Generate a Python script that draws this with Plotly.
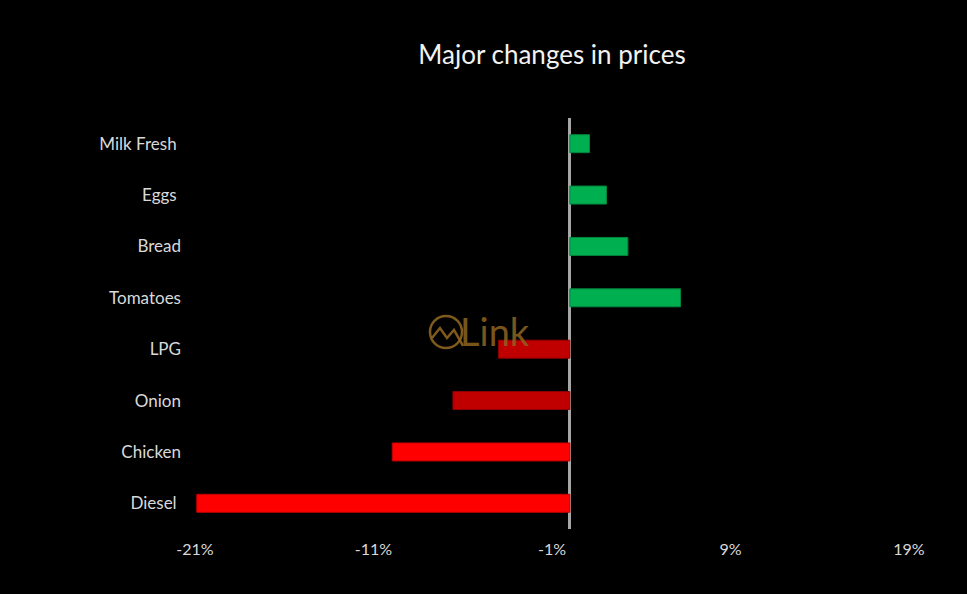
import plotly.graph_objects as go

# ---- data ----
categories = ["Milk Fresh", "Eggs", "Bread", "Tomatoes", "LPG", "Onion", "Chicken", "Diesel"]
tick_labels = ["Milk Fresh\u00a0", "Eggs\u00a0", "Bread", "Tomatoes", "LPG", "Onion", "Chicken", "Diesel\u00a0"]
changes = [1.1, 2.05, 3.25, 6.2, -4.0, -6.55, -9.95, -20.9]
bar_colors = ["#00B050", "#00B050", "#00B050", "#00B050", "#C00000", "#C00000", "#FF0000", "#FF0000"]
edge_colors = ["#00873D", "#00873D", "#00873D", "#00873D", "#8E0000", "#8E0000", "#C00000", "#C00000"]
x_ticks = [-21, -11, -1, 9, 19]
x_tick_text = ["-21%", "-11%", "-1%", "9%", "19%"]

W, H = 967, 594
L, R, T, B = 195, 58, 118, 65

fig = go.Figure(
    go.Bar(
        y=categories,
        x=changes,
        orientation="h",
        width=0.35,
        marker=dict(color=bar_colors, line=dict(color=edge_colors, width=1)),
        hoverinfo="x+y",
    )
)

fig.update_layout(
    width=W,
    height=H,
    paper_bgcolor="black",
    plot_bgcolor="black",
    margin=dict(l=L, r=R, t=T, b=B),
    showlegend=False,
    title=dict(
        text="Major changes in prices",
        x=0.5,
        xref="paper",
        xanchor="center",
        y=1 - 55 / H,
        yref="container",
        yanchor="middle",
        font=dict(family="Lato, Open Sans, sans-serif", size=26, color="#F2F2F2"),
    ),
    xaxis=dict(
        range=[-21, 19],
        tickvals=x_ticks,
        ticktext=x_tick_text,
        showgrid=False,
        zeroline=True,
        zerolinecolor="#A6A6A6",
        zerolinewidth=2.5,
        showline=False,
        ticks="",
        ticklabelstandoff=9,
        tickfont=dict(family="Lato, Open Sans, sans-serif", size=16, color="#D9D9D9"),
        fixedrange=True,
    ),
    yaxis=dict(
        categoryorder="array",
        categoryarray=categories,
        tickvals=categories,
        ticktext=tick_labels,
        autorange="reversed",
        showgrid=False,
        zeroline=False,
        showline=False,
        ticks="",
        ticklabelstandoff=13,
        tickfont=dict(family="Lato, Open Sans, sans-serif", size=17, color="#D9D9D9"),
        fixedrange=True,
    ),
)

# ---- watermark (decorative logo) ----
pw, ph = W - L - R, H - T - B


def px(x):
    return (x - L) / pw


def py(y):
    return (H - B - y) / ph


logo_color = "#8C6420"
fig.add_shape(
    type="circle", xref="paper", yref="paper",
    x0=px(430), x1=px(462), y0=py(348), y1=py(316),
    line=dict(color=logo_color, width=2.5), layer="above", opacity=0.9,
)
zig = [(432, 338), (440, 328), (447, 338), (454, 330), (463, 346)]
path = "M " + " L ".join(f"{px(a):.4f},{py(b):.4f}" for a, b in zig)
fig.add_shape(
    type="path", xref="paper", yref="paper", path=path,
    line=dict(color=logo_color, width=2.5), layer="above", opacity=0.9,
)
fig.add_annotation(
    text="Link", xref="paper", yref="paper",
    x=px(458), y=py(331), xanchor="left", yanchor="middle",
    showarrow=False, opacity=0.85,
    font=dict(family="Lato, Open Sans, sans-serif", size=38, color=logo_color),
)

fig.write_html("out.html", config={"displayModeBar": False})

# remove the default page margin so the figure fills the window edge to edge
with open("out.html", encoding="utf-8") as f:
    html = f.read()
html = html.replace(
    "<head>",
    "<head><style>html,body{margin:0;padding:0;background:#000;overflow:hidden;}</style>",
    1,
)
with open("out.html", "w", encoding="utf-8") as f:
    f.write(html)
